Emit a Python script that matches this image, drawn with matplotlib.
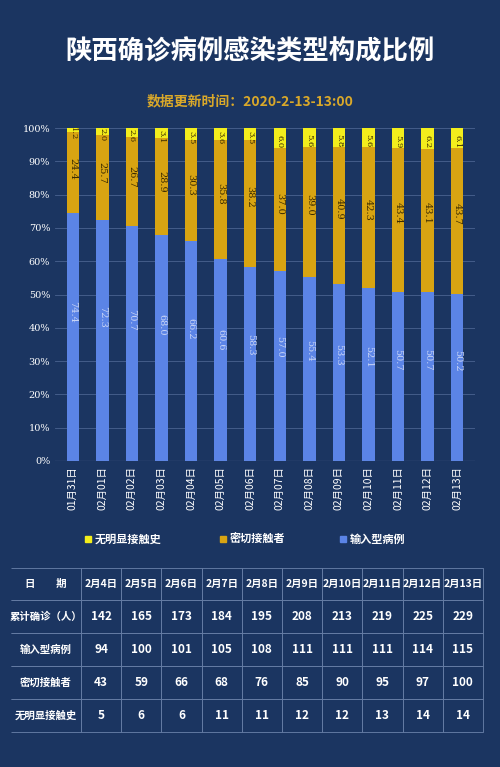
import matplotlib
matplotlib.use("Agg")
import matplotlib.pyplot as plt
import numpy as np

plt.rcParams['font.family'] = ['Noto Sans CJK SC', 'DejaVu Sans']

dates = ["01月31日", "02月01日", "02月02日", "02月03日", "02月04日", "02月05日", "02月06日",
         "02月07日", "02月08日", "02月09日", "02月10日", "02月11日", "02月12日", "02月13日"]
no_contact = [1.2, 2.0, 2.6, 3.1, 3.5, 3.6, 3.5, 6.0, 5.6, 5.8, 5.6, 5.9, 6.2, 6.1]
close_contact = [24.4, 25.7, 26.7, 28.9, 30.3, 35.8, 38.2, 37.0, 39.0, 40.9, 42.3, 43.4, 43.1, 43.7]
imported = [74.4, 72.3, 70.7, 68.0, 66.2, 60.6, 58.3, 57.0, 55.4, 53.3, 52.1, 50.7, 50.7, 50.2]

tbl_dates = ["2月4日", "2月5日", "2月6日", "2月7日", "2月8日", "2月9日", "2月10日", "2月11日", "2月12日", "2月13日"]
tbl_rows = ["累计确诊（人）", "输入型病例", "密切接触者", "无明显接触史"]
tbl_total = [142, 165, 173, 184, 195, 208, 213, 219, 225, 229]
tbl_imported = [94, 100, 101, 105, 108, 111, 111, 111, 114, 115]
tbl_close = [43, 59, 66, 68, 76, 85, 90, 95, 97, 100]
tbl_none = [5, 6, 6, 11, 11, 12, 12, 13, 14, 14]

BG = "#1b3561"
YEL, GOLD, BLUE = "#f3ee1c", "#d8a412", "#5b84e6"

fig = plt.figure(figsize=(5, 7.67), dpi=100, facecolor=BG)
fig.text(0.5, 0.932, "陕西确诊病例感染类型构成比例", color="white", fontsize=19,
         fontweight="bold", ha="center", va="center")
fig.text(0.5, 0.868, "数据更新时间：2020-2-13-13:00", color="#d9a82a", fontsize=10,
         fontweight="bold", ha="center", va="center")

ax = fig.add_axes([0.11, 0.399, 0.84, 0.434], facecolor=BG)
x = np.arange(len(dates))
w = 0.42
ax.bar(x, imported, w, color=BLUE)
ax.bar(x, close_contact, w, bottom=imported, color=GOLD)
bot2 = np.array(imported) + np.array(close_contact)
ax.bar(x, no_contact, w, bottom=bot2, color=YEL)
for i in x:
    ax.text(i, imported[i] * 0.6, f"{imported[i]:.1f}", rotation=-90, ha="center", va="center",
            fontsize=7, color="#c8d4f5", family="DejaVu Serif")
    ax.text(i, imported[i] + close_contact[i] * 0.55, f"{close_contact[i]:.1f}", rotation=-90,
            ha="center", va="center", fontsize=7, color="#3a2a00", family="DejaVu Serif")
    ax.text(i, bot2[i] + no_contact[i] / 2 - 1, f"{no_contact[i]:.1f}", rotation=-90,
            ha="center", va="center", fontsize=6, color="#3a2a00", family="DejaVu Serif")
ax.set_ylim(0, 100)
ax.set_xlim(-0.6, len(dates) - 0.4)
ax.set_yticks(range(0, 101, 10))
ax.set_yticklabels([f"{v}%" for v in range(0, 101, 10)], color="white", fontsize=7,
                   family="DejaVu Serif")
ax.set_xticks(x)
ax.set_xticklabels(dates, rotation=90, color="white", fontsize=7.5)
ax.tick_params(length=0)
ax.grid(axis="y", color="#4a6390", lw=0.6)
ax.set_axisbelow(True)
for s in ax.spines.values():
    s.set_visible(False)
ax.axhline(0, color="#8ea0c0", lw=0.8)

for lx, c, lab in [(0.17, YEL, "无明显接触史"), (0.44, GOLD, "密切接触者"), (0.68, BLUE, "输入型病例")]:
    fig.patches.append(plt.Rectangle((lx, 0.293), 0.012, 0.008, color=c, transform=fig.transFigure))
    fig.text(lx + 0.02, 0.297, lab, color="white", fontsize=8, fontweight="bold", va="center")

# table
tax = fig.add_axes([0.0, 0.046, 1.0, 0.214])
tax.set_axis_off()
cells = [[str(v) for v in r] for r in (tbl_total, tbl_imported, tbl_close, tbl_none)]
table = tax.table(cellText=[tbl_dates] + cells,
                  rowLabels=["日　　期"] + tbl_rows, loc="center", bbox=[0.196, 0, 0.804, 1],
                  cellLoc="center", rowLoc="center")
table.auto_set_font_size(False)
for (r, c), cell in table.get_celld().items():
    cell.set_facecolor(BG)
    cell.set_edgecolor("#6b82aa")
    cell.set_linewidth(0.6)
    cell.get_text().set_color("white")
    cell.get_text().set_fontweight("bold")
    cell.get_text().set_fontsize(7.5 if r == 0 or c == -1 else 8.5)
    if c == -1:
        cell.visible_edges = "BTR"
    else:
        cell.visible_edges = "BTLR"

fig.savefig("out.png", dpi=100, facecolor=BG)
